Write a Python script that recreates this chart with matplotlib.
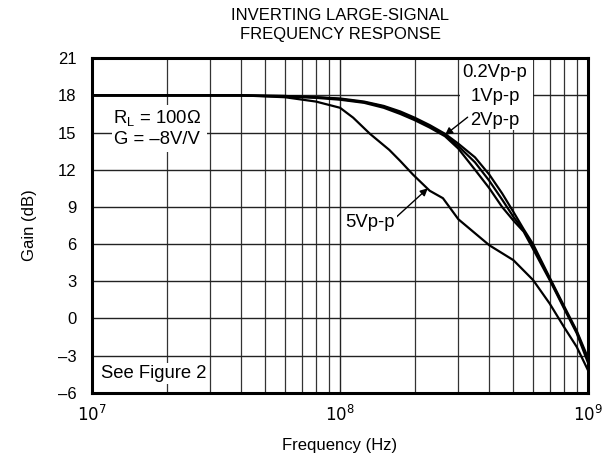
import numpy as np
import matplotlib.pyplot as plt
from matplotlib.patches import Rectangle

plt.rcParams['font.family'] = ['Liberation Sans', 'DejaVu Sans']

# frequency points (Hz) and gain (dB)
f_small = [1e7, 2e7, 4e7, 6e7, 8e7, 1e8, 1.25e8, 1.5e8, 1.75e8, 2e8, 2.3e8, 2.65e8,
           3e8, 3.5e8, 4e8, 4.5e8, 5e8, 5.5e8, 6e8, 7e8, 8e8, 9e8, 1e9]
g_02v = [18.0, 18.0, 18.0, 17.95, 17.85, 17.75, 17.5, 17.15, 16.7, 16.2, 15.6, 14.9,
         14.1, 13.0, 11.6, 10.1, 8.6, 7.2, 6.0, 3.3, 1.0, -1.0, -3.2]
g_1v = [18.0, 18.0, 18.0, 17.95, 17.85, 17.7, 17.45, 17.1, 16.6, 16.1, 15.5, 14.8,
        13.9, 12.6, 11.1, 9.6, 8.2, 7.1, 5.8, 3.2, 0.9, -1.1, -3.4]
g_2v = [18.0, 18.0, 18.0, 17.9, 17.8, 17.65, 17.4, 17.0, 16.5, 16.0, 15.4, 14.7,
        13.7, 12.0, 10.5, 9.0, 7.9, 7.0, 5.6, 3.1, 0.8, -1.2, -3.6]

f_5v = [1e7, 2e7, 4e7, 6e7, 8e7, 1e8, 1.13e8, 1.32e8, 1.58e8, 1.75e8, 1.97e8, 2.3e8,
        2.6e8, 3e8, 4e8, 5e8, 6e8, 7e8, 8e8, 9e8, 1e9]
g_5v = [18.0, 18.0, 18.0, 17.85, 17.5, 17.0, 16.2, 14.9, 13.6, 12.7, 11.6, 10.3,
        9.7, 8.0, 5.9, 4.7, 3.1, 1.2, -0.7, -2.3, -4.2]

yticks = [21, 18, 15, 12, 9, 6, 3, 0, -3, -6]

fig = plt.figure(figsize=(6.05, 4.62), dpi=100)
ax = fig.add_axes([0.152, 0.150, 0.820, 0.724])

for g in (g_02v, g_1v, g_2v):
    ax.plot(f_small, g, color='k', lw=1.6, zorder=3)
ax.plot(f_5v, g_5v, color='k', lw=1.6, zorder=3)

ax.set_xscale('log')
ax.set_xlim(1e7, 1e9)
ax.set_ylim(-6, 21)
ax.set_yticks(yticks)
ax.set_yticklabels([str(v).replace('-', '\u2013') for v in yticks])
ax.set_xticks([1e7, 1e8, 1e9])
ax.set_xticklabels(['$10^7$', '$10^8$', '$10^9$'])
ax.tick_params(which='both', length=0, labelsize=12)
ax.tick_params(axis='y', pad=11)
ax.tick_params(axis='x', pad=8)
ax.grid(which='major', color='#222222', lw=1.0)
ax.grid(which='minor', axis='x', color='#333333', lw=0.9)
for s in ax.spines.values():
    s.set_linewidth(2.2)
    s.set_zorder(5)

ax.set_xlabel('Frequency (Hz)', fontsize=12, labelpad=10)
ax.set_ylabel('Gain (dB)', fontsize=12, labelpad=15)
ax.set_title('INVERTING LARGE-SIGNAL\nFREQUENCY RESPONSE', fontsize=12, pad=14,
             linespacing=1.3)

# white patches that hide the grid behind the labels
ax.add_patch(Rectangle((0.742, 0.785), 0.148, 0.22, transform=ax.transAxes,
                       facecolor='white', edgecolor='none', zorder=2))
ax.add_patch(Rectangle((0.040, 0.719), 0.192, 0.140, transform=ax.transAxes,
                       facecolor='white', edgecolor='none', zorder=2))

box = dict(facecolor='white', edgecolor='none', pad=1.5)
fs = 13.3
ax.text(0.131, 0.792, 'R$_\\mathregular{L}$ = 100\u03a9\nG = \u20138V/V', transform=ax.transAxes,
        ha='center', va='center', fontsize=fs, linespacing=1.25, zorder=4)
ax.text(0.018, 0.058, 'See Figure 2', transform=ax.transAxes, ha='left', va='center',
        fontsize=fs, bbox=box, zorder=4)
ax.text(0.8125, 0.958, '0.2Vp-p', transform=ax.transAxes, ha='center', va='center',
        fontsize=fs, zorder=4)
ax.text(0.8125, 0.885, '1Vp-p', transform=ax.transAxes, ha='center', va='center',
        fontsize=fs, zorder=4)
ax.annotate('2Vp-p', xy=(2.65e8, 14.8), xycoords='data', xytext=(0.8125, 0.815),
            textcoords='axes fraction', ha='center', va='center', fontsize=fs,
            zorder=4,
            arrowprops=dict(arrowstyle='-|>', color='k', lw=1.0, mutation_scale=11,
                            shrinkA=0, shrinkB=0, relpos=(0.0, 0.8)))
ax.annotate('5Vp-p', xy=(2.26e8, 10.5), xycoords='data', xytext=(0.56, 0.51),
            textcoords='axes fraction', ha='center', va='center', fontsize=fs,
            bbox=box, zorder=4,
            arrowprops=dict(arrowstyle='-|>', color='k', lw=1.0, mutation_scale=11,
                            shrinkA=0, shrinkB=0, relpos=(1.0, 0.7)))

plt.savefig('out.png', dpi=100)
